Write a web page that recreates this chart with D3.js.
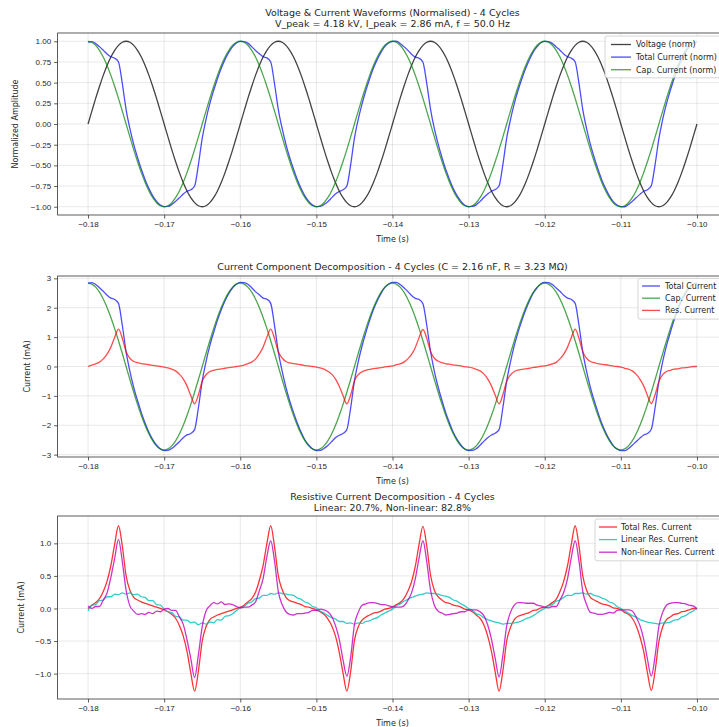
<!DOCTYPE html>
<html>
<head>
<meta charset="utf-8">
<script src="https://cdn.jsdelivr.net/npm/d3@7"></script>
<style>
  body { margin: 0; background: #ffffff; }
  svg { display: block; font-family: "DejaVu Sans", sans-serif; }
</style>
</head>
<body>
<svg id="fig" width="719" height="727"></svg>
<script>
// Sampling: 0.5 ms steps from -0.18 s to -0.10 s (4 cycles at 50 Hz)
const tStart = -0.18;
const dt = 0.0005;

// Applied voltage (kV)
const voltageKV = [
  0, 0.652, 1.292, 1.898, 2.458, 2.955, 3.382, 3.724, 3.975, 4.130, 4.18, 4.130, 3.975, 3.724, 3.382, 2.955, 2.458, 1.898, 1.292, 0.652,
  0, -0.652, -1.292, -1.898, -2.458, -2.955, -3.382, -3.724, -3.975, -4.130, -4.18, -4.130, -3.975, -3.724, -3.382, -2.955, -2.458, -1.898, -1.292, -0.652,
  0, 0.652, 1.292, 1.898, 2.458, 2.955, 3.382, 3.724, 3.975, 4.130, 4.18, 4.130, 3.975, 3.724, 3.382, 2.955, 2.458, 1.898, 1.292, 0.652,
  0, -0.652, -1.292, -1.898, -2.458, -2.955, -3.382, -3.724, -3.975, -4.130, -4.18, -4.130, -3.975, -3.724, -3.382, -2.955, -2.458, -1.898, -1.292, -0.652,
  0, 0.652, 1.292, 1.898, 2.458, 2.955, 3.382, 3.724, 3.975, 4.130, 4.18, 4.130, 3.975, 3.724, 3.382, 2.955, 2.458, 1.898, 1.292, 0.652,
  0, -0.652, -1.292, -1.898, -2.458, -2.955, -3.382, -3.724, -3.975, -4.130, -4.18, -4.130, -3.975, -3.724, -3.382, -2.955, -2.458, -1.898, -1.292, -0.652,
  0, 0.652, 1.292, 1.898, 2.458, 2.955, 3.382, 3.724, 3.975, 4.130, 4.18, 4.130, 3.975, 3.724, 3.382, 2.955, 2.458, 1.898, 1.292, 0.652,
  0, -0.652, -1.292, -1.898, -2.458, -2.955, -3.382, -3.724, -3.975, -4.130, -4.18, -4.130, -3.975, -3.724, -3.382, -2.955, -2.458, -1.898, -1.292, -0.652,
  0
];

// Capacitive current component (mA)
const capCurrent = [
  2.84, 2.806, 2.701, 2.531, 2.298, 2.008, 1.669, 1.289, 0.878, 0.444, 0, -0.444, -0.878, -1.289, -1.669, -2.008, -2.298, -2.531, -2.701, -2.806,
  -2.84, -2.806, -2.701, -2.531, -2.298, -2.008, -1.669, -1.289, -0.878, -0.444, 0, 0.444, 0.878, 1.289, 1.669, 2.008, 2.298, 2.531, 2.701, 2.806,
  2.84, 2.806, 2.701, 2.531, 2.298, 2.008, 1.669, 1.289, 0.878, 0.444, 0, -0.444, -0.878, -1.289, -1.669, -2.008, -2.298, -2.531, -2.701, -2.806,
  -2.84, -2.806, -2.701, -2.531, -2.298, -2.008, -1.669, -1.289, -0.878, -0.444, 0, 0.444, 0.878, 1.289, 1.669, 2.008, 2.298, 2.531, 2.701, 2.806,
  2.84, 2.806, 2.701, 2.531, 2.298, 2.008, 1.669, 1.289, 0.878, 0.444, 0, -0.444, -0.878, -1.289, -1.669, -2.008, -2.298, -2.531, -2.701, -2.806,
  -2.84, -2.806, -2.701, -2.531, -2.298, -2.008, -1.669, -1.289, -0.878, -0.444, 0, 0.444, 0.878, 1.289, 1.669, 2.008, 2.298, 2.531, 2.701, 2.806,
  2.84, 2.806, 2.701, 2.531, 2.298, 2.008, 1.669, 1.289, 0.878, 0.444, 0, -0.444, -0.878, -1.289, -1.669, -2.008, -2.298, -2.531, -2.701, -2.806,
  -2.84, -2.806, -2.701, -2.531, -2.298, -2.008, -1.669, -1.289, -0.878, -0.444, 0, 0.444, 0.878, 1.289, 1.669, 2.008, 2.298, 2.531, 2.701, 2.806,
  2.84
];

// Total resistive current component (mA)
const resCurrent = [
  0.00, 0.05, 0.09, 0.15, 0.26, 0.42, 0.66, 0.99, 1.27, 0.96, 0.50, 0.28, 0.17, 0.13, 0.10, 0.08, 0.06, 0.04, 0.02, 0.00,
  -0.02, -0.05, -0.09, -0.15, -0.26, -0.42, -0.66, -0.99, -1.27, -0.96, -0.50, -0.28, -0.17, -0.13, -0.10, -0.08, -0.06, -0.04, -0.02, 0.00,
  0.02, 0.05, 0.10, 0.15, 0.25, 0.43, 0.66, 1.00, 1.27, 0.95, 0.50, 0.29, 0.17, 0.12, 0.10, 0.08, 0.06, 0.03, 0.02, 0.00,
  -0.02, -0.05, -0.09, -0.16, -0.26, -0.42, -0.67, -0.99, -1.27, -0.97, -0.49, -0.28, -0.18, -0.13, -0.10, -0.07, -0.06, -0.04, -0.01, 0.00,
  0.02, 0.06, 0.09, 0.15, 0.26, 0.41, 0.65, 0.99, 1.26, 0.96, 0.51, 0.28, 0.18, 0.13, 0.09, 0.08, 0.05, 0.04, 0.02, -0.01,
  -0.02, -0.05, -0.10, -0.15, -0.25, -0.42, -0.66, -0.98, -1.27, -0.96, -0.50, -0.29, -0.17, -0.12, -0.10, -0.08, -0.06, -0.03, -0.02, 0.01,
  0.02, 0.05, 0.09, 0.14, 0.26, 0.42, 0.66, 0.99, 1.27, 0.96, 0.50, 0.28, 0.17, 0.13, 0.10, 0.07, 0.06, 0.04, 0.01, 0.00,
  -0.02, -0.06, -0.09, -0.15, -0.26, -0.43, -0.66, -0.99, -1.26, -0.96, -0.51, -0.28, -0.17, -0.13, -0.09, -0.08, -0.05, -0.04, -0.02, 0.00,
  0.00
];

// Linear (in-phase) part of the resistive current (mA)
const linearRes = [
  -0.04, 0.05, 0.06, 0.12, 0.13, 0.18, 0.18, 0.22, 0.21, 0.24, 0.22, 0.24, 0.21, 0.22, 0.18, 0.17, 0.12, 0.12, 0.06, 0.05,
  -0.01, -0.05, -0.06, -0.12, -0.13, -0.18, -0.18, -0.22, -0.21, -0.25, -0.22, -0.24, -0.21, -0.22, -0.17, -0.18, -0.12, -0.11, -0.08, -0.03,
  0.01, 0.03, 0.08, 0.10, 0.15, 0.16, 0.20, 0.20, 0.23, 0.22, 0.24, 0.23, 0.22, 0.21, 0.20, 0.16, 0.14, 0.10, 0.08, 0.03,
  0.01, -0.04, -0.07, -0.11, -0.14, -0.16, -0.20, -0.20, -0.23, -0.22, -0.24, -0.22, -0.23, -0.20, -0.19, -0.16, -0.14, -0.10, -0.07, -0.04,
  -0.01, 0.04, 0.07, 0.11, 0.14, 0.17, 0.19, 0.21, 0.22, 0.24, 0.23, 0.23, 0.22, 0.20, 0.19, 0.17, 0.13, 0.11, 0.07, 0.04,
  0.00, -0.03, -0.08, -0.10, -0.14, -0.17, -0.19, -0.21, -0.22, -0.24, -0.23, -0.23, -0.22, -0.21, -0.19, -0.16, -0.14, -0.11, -0.07, -0.03,
  0.00, 0.04, 0.06, 0.11, 0.13, 0.17, 0.20, 0.20, 0.23, 0.23, 0.24, 0.22, 0.23, 0.20, 0.19, 0.16, 0.14, 0.10, 0.08, 0.03,
  0.00, -0.04, -0.07, -0.11, -0.13, -0.17, -0.19, -0.21, -0.22, -0.23, -0.24, -0.22, -0.22, -0.21, -0.18, -0.17, -0.13, -0.11, -0.07, -0.04,
  0.01
];

// Axis tick values
const timeTicks = [-0.18, -0.17, -0.16, -0.15, -0.14, -0.13, -0.12, -0.11, -0.10];
const normTicks = [-1.0, -0.75, -0.5, -0.25, 0, 0.25, 0.5, 0.75, 1.0];
const currentTicks = [-3, -2, -1, 0, 1, 2, 3];
const resTicks = [-1.0, -0.5, 0, 0.5, 1.0];

// Derived series
const time = d3.range(voltageKV.length).map(i => tStart + i * dt);
const totalCurrent = capCurrent.map((c, i) => c + resCurrent[i]);
const nonlinearRes = resCurrent.map((r, i) => r - linearRes[i]);
const vPeak = d3.max(voltageKV, Math.abs);
const iPeak = d3.max(totalCurrent, Math.abs);
const cPeak = d3.max(capCurrent, Math.abs);
const voltageNorm = voltageKV.map(v => v / vPeak);
const totalNorm = totalCurrent.map(v => v / iPeak);
const capNorm = capCurrent.map(v => v / cPeak);

const svg = d3.select("#fig");
const axLeft = 57.6, axRight = 727.4;
const x = d3.scaleLinear().domain([-0.184, -0.096]).range([axLeft, axRight]);
const textColor = "#262626";

const panels = [
  {
    id: "p1", top: 33, bottom: 215, yDomain: [-1.1, 1.1], yTicks: normTicks, yFmt: d3.format(".2f"),
    title: ["Voltage & Current Waveforms (Normalised) - 4 Cycles", "V_peak = 4.18 kV, I_peak = 2.86 mA, f = 50.0 Hz"],
    titleY: 15.5, ylabel: "Normalized Amplitude", ylabelX: 18,
    series: [
      { name: "Voltage (norm)", values: voltageNorm, color: "#222222", opacity: 0.85 },
      { name: "Total Current (norm)", values: totalNorm, color: "#0000ff", opacity: 0.7 },
      { name: "Cap. Current (norm)", values: capNorm, color: "#008000", opacity: 0.7 }
    ],
    legend: { x: 605, y: 36, w: 130, handleX: 611, handleW: 20, textX: 636, rowY: 44.5, rowH: 12.6 }
  },
  {
    id: "p2", top: 276, bottom: 457, yDomain: [-3.08, 3.08], yTicks: currentTicks, yFmt: d3.format("d"),
    title: ["Current Component Decomposition - 4 Cycles (C = 2.16 nF, R = 3.23 MΩ)"],
    titleY: 269.5, ylabel: "Current (mA)", ylabelX: 30,
    series: [
      { name: "Total Current", values: totalCurrent, color: "#0000ff", opacity: 0.7 },
      { name: "Cap. Current", values: capCurrent, color: "#008000", opacity: 0.7 },
      { name: "Res. Current", values: resCurrent, color: "#ff0000", opacity: 0.7 }
    ],
    legend: { x: 638, y: 278.5, w: 100, handleX: 642, handleW: 18, textX: 665, rowY: 286, rowH: 12.2 }
  },
  {
    id: "p3", top: 516, bottom: 699, yDomain: [-1.39, 1.42], yTicks: resTicks, yFmt: d3.format(".1f"),
    title: ["Resistive Current Decomposition - 4 Cycles", "Linear: 20.7%, Non-linear: 82.8%"],
    titleY: 499.5, ylabel: "Current (mA)", ylabelX: 24,
    series: [
      { name: "Total Res. Current", values: resCurrent, color: "#ff0000", opacity: 0.8 },
      { name: "Linear Res. Current", values: linearRes, color: "#00bfbf", opacity: 0.8 },
      { name: "Non-linear Res. Current", values: nonlinearRes, color: "#bf00bf", opacity: 0.8 }
    ],
    legend: { x: 595, y: 519, w: 140, handleX: 599, handleW: 18, textX: 621, rowY: 527, rowH: 12.6 }
  }
];

panels.forEach(p => {
  const y = d3.scaleLinear().domain(p.yDomain).range([p.bottom, p.top]);
  const g = svg.append("g");

  // clip region for the plot area
  g.append("clipPath").attr("id", "clip-" + p.id)
    .append("rect").attr("x", axLeft).attr("y", p.top)
    .attr("width", axRight - axLeft).attr("height", p.bottom - p.top);

  // grid
  const grid = g.append("g").attr("stroke", "#b0b0b0").attr("stroke-opacity", 0.35).attr("stroke-width", 0.8);
  grid.selectAll(".gx").data(timeTicks).join("line")
    .attr("x1", d => x(d)).attr("x2", d => x(d)).attr("y1", p.top).attr("y2", p.bottom);
  grid.selectAll(".gy").data(p.yTicks).join("line")
    .attr("x1", axLeft).attr("x2", axRight).attr("y1", d => y(d)).attr("y2", d => y(d));

  // data lines
  const line = d3.line().x((d, i) => x(time[i])).y(d => y(d)).curve(d3.curveMonotoneX);
  const lines = g.append("g").attr("clip-path", "url(#clip-" + p.id + ")");
  p.series.forEach(s => {
    lines.append("path").datum(s.values)
      .attr("d", line).attr("fill", "none")
      .attr("stroke", s.color).attr("stroke-opacity", s.opacity)
      .attr("stroke-width", 1.3).attr("stroke-linejoin", "round");
  });

  // axes
  const xAxis = d3.axisBottom(x).tickValues(timeTicks).tickFormat(d3.format(".2f")).tickSize(3.5).tickPadding(3);
  const yAxis = d3.axisLeft(y).tickValues(p.yTicks).tickFormat(p.yFmt).tickSize(3.5).tickPadding(3);
  const gx = g.append("g").attr("transform", `translate(0,${p.bottom})`).call(xAxis);
  const gy = g.append("g").attr("transform", `translate(${axLeft},0)`).call(yAxis);
  [gx, gy].forEach(a => {
    a.select(".domain").remove();
    a.selectAll(".tick line").attr("stroke", "#333").attr("stroke-width", 0.8);
    a.selectAll(".tick text").attr("fill", textColor).attr("font-size", 8);
  });

  // frame
  g.append("rect").attr("x", axLeft).attr("y", p.top)
    .attr("width", axRight - axLeft).attr("height", p.bottom - p.top)
    .attr("fill", "none").attr("stroke", "#333").attr("stroke-width", 0.8);

  // title
  p.title.forEach((t, i) => {
    g.append("text").attr("x", (axLeft + axRight) / 2).attr("y", p.titleY + i * 11.5)
      .attr("text-anchor", "middle").attr("font-size", 9.5).attr("fill", textColor).text(t);
  });

  // axis labels
  g.append("text").attr("x", (axLeft + axRight) / 2).attr("y", p.bottom + 27)
    .attr("text-anchor", "middle").attr("font-size", 8).attr("fill", textColor).text("Time (s)");
  g.append("text").attr("transform", `translate(${p.ylabelX},${(p.top + p.bottom) / 2}) rotate(-90)`)
    .attr("text-anchor", "middle").attr("font-size", 8).attr("fill", textColor).text(p.ylabel);

  // legend
  const L = p.legend;
  const lg = g.append("g");
  lg.append("rect").attr("x", L.x).attr("y", L.y).attr("width", L.w)
    .attr("height", L.rowH * p.series.length + 4).attr("rx", 2)
    .attr("fill", "#ffffff").attr("fill-opacity", 0.8).attr("stroke", "#cccccc").attr("stroke-width", 0.8);
  p.series.forEach((s, i) => {
    const ry = L.rowY + i * L.rowH;
    lg.append("line").attr("x1", L.handleX).attr("x2", L.handleX + L.handleW).attr("y1", ry).attr("y2", ry)
      .attr("stroke", s.color).attr("stroke-opacity", s.opacity).attr("stroke-width", 1.3);
    lg.append("text").attr("x", L.textX).attr("y", ry).attr("dy", "0.35em")
      .attr("font-size", 8).attr("fill", textColor).text(s.name);
  });
});
</script>
</body>
</html>
